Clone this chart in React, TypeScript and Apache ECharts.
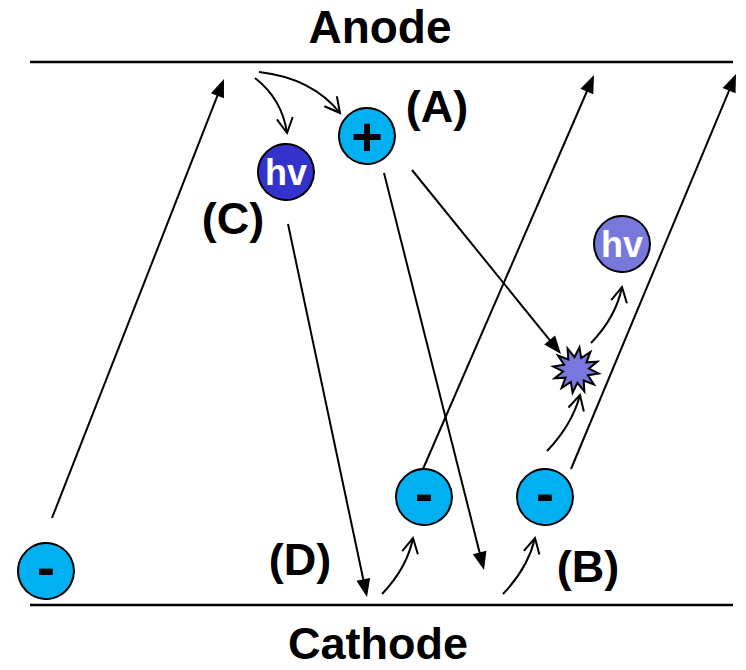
import React, { useEffect, useRef } from "react";
import * as echarts from "echarts";

const W = 746;
const H = 670;

// Electrodes
const electrodeNames = ["Anode", "Cathode"];
const electrodeLineY = [62, 605];
const electrodeLineX = [30, 733];
const electrodeNameX = [380, 378];
const electrodeNameY = [27, 643];
const electrodeNameSize = [46, 45];

// Particles (circles)
const particleLabels = ["-", "-", "-", "+", "hv", "hv"];
const particleKinds = ["ion", "ion", "ion", "ion", "photonDark", "photonLight"];
const particleX = [46, 424, 545, 367, 286, 622];
const particleY = [571, 497, 497, 136, 172, 244];

// Step labels
const stepLabels = ["(A)", "(B)", "(C)", "(D)"];
const stepX = [437, 588, 233, 300];
const stepY = [106, 566, 218, 559];

// Straight trajectories (filled arrowheads)
const straightFromX = [52, 423, 571, 384, 288, 412];
const straightFromY = [518, 469, 469, 173, 224, 170];
const straightToX = [224, 594, 736, 484, 367, 561];
const straightToY = [79, 75, 74, 570, 597, 354];

// Curved emissions (open arrowheads)
const curveFromX = [255, 259, 591, 547, 382, 503];
const curveFromY = [78, 72, 343, 451, 594, 594];
const curveCtrlX = [282, 312, 616, 572, 407, 528];
const curveCtrlY = [99, 78, 317, 425, 568, 568];
const curveToX = [287, 340, 622, 580, 413, 535];
const curveToY = [133, 113, 287, 395, 538, 538];

// Recombination flash
const flashX = [576];
const flashY = [370];

const FONT = '"Liberation Sans", Arial, Helvetica, sans-serif';
const kindFill: Record<string, string> = {
  ion: "#00B0F0",
  photonDark: "#3333CC",
  photonLight: "#7878DC",
};
const kindText: Record<string, string> = {
  ion: "#000000",
  photonDark: "#FFFFFF",
  photonLight: "#FFFFFF",
};

function textEl(text: string, x: number, y: number, size: number, fill: string) {
  return {
    type: "text",
    style: {
      text,
      x,
      y,
      fill,
      font: `bold ${size}px ${FONT}`,
      align: "center",
      verticalAlign: "middle",
      textAlign: "center",
      textVerticalAlign: "middle",
    },
  };
}

export default function App() {
  const ref = useRef<HTMLDivElement>(null);

  useEffect(() => {
    if (!ref.current) return;
    const chart = echarts.init(ref.current, undefined, { renderer: "svg" });

    const common = {
      type: "custom",
      coordinateSystem: "cartesian2d",
      silent: true,
      clip: false,
    };

    const option = {
      animation: false,
      backgroundColor: "#ffffff",
      grid: { left: 0, right: 0, top: 0, bottom: 0 },
      xAxis: { type: "value", min: 0, max: W, show: false },
      yAxis: { type: "value", min: 0, max: H, inverse: true, show: false },
      series: [
        {
          ...common,
          name: "electrodes",
          data: electrodeLineY.map((y, i) => [electrodeLineX[0], y, electrodeLineX[1], electrodeNameX[i], electrodeNameY[i]]),
          encode: { x: [0, 2], y: 1 },
          renderItem: (params: any, api: any) => {
            const a = api.coord([api.value(0), api.value(1)]);
            const b = api.coord([api.value(2), api.value(1)]);
            const t = api.coord([api.value(3), api.value(4)]);
            return {
              type: "group",
              children: [
                { type: "line", shape: { x1: a[0], y1: a[1], x2: b[0], y2: b[1] }, style: { stroke: "#000", lineWidth: 2.5 } },
                textEl(electrodeNames[params.dataIndex], t[0], t[1], electrodeNameSize[params.dataIndex], "#000"),
              ],
            };
          },
        },
        {
          ...common,
          name: "straight",
          data: straightFromX.map((x, i) => [x, straightFromY[i], straightToX[i], straightToY[i]]),
          encode: { x: [0, 2], y: [1, 3] },
          renderItem: (params: any, api: any) => {
            const p1 = api.coord([api.value(0), api.value(1)]);
            const p2 = api.coord([api.value(2), api.value(3)]);
            const dx = p2[0] - p1[0];
            const dy = p2[1] - p1[1];
            const L = Math.hypot(dx, dy);
            const ux = dx / L;
            const uy = dy / L;
            const hl = 18;
            const hw = 7;
            const bx = p2[0] - ux * hl;
            const by = p2[1] - uy * hl;
            return {
              type: "group",
              children: [
                { type: "line", shape: { x1: p1[0], y1: p1[1], x2: bx + ux * 3, y2: by + uy * 3 }, style: { stroke: "#000", lineWidth: 2 } },
                {
                  type: "polygon",
                  shape: { points: [[p2[0], p2[1]], [bx - uy * hw, by + ux * hw], [bx + uy * hw, by - ux * hw]] },
                  style: { fill: "#000" },
                },
              ],
            };
          },
        },
        {
          ...common,
          name: "curves",
          data: curveFromX.map((x, i) => [x, curveFromY[i], curveCtrlX[i], curveCtrlY[i], curveToX[i], curveToY[i]]),
          encode: { x: [0, 2, 4], y: [1, 3, 5] },
          renderItem: (params: any, api: any) => {
            const p1 = api.coord([api.value(0), api.value(1)]);
            const c = api.coord([api.value(2), api.value(3)]);
            const p2 = api.coord([api.value(4), api.value(5)]);
            const dx = p2[0] - c[0];
            const dy = p2[1] - c[1];
            const L = Math.hypot(dx, dy);
            const bx = -dx / L;
            const by = -dy / L;
            const wl = 17;
            const ang = (28 * Math.PI) / 180;
            const cs = Math.cos(ang);
            const sn = Math.sin(ang);
            const w1 = [p2[0] + wl * (bx * cs - by * sn), p2[1] + wl * (bx * sn + by * cs)];
            const w2 = [p2[0] + wl * (bx * cs + by * sn), p2[1] + wl * (-bx * sn + by * cs)];
            return {
              type: "group",
              children: [
                {
                  type: "bezierCurve",
                  shape: { x1: p1[0], y1: p1[1], cpx1: c[0], cpy1: c[1], x2: p2[0], y2: p2[1] },
                  style: { stroke: "#000", lineWidth: 2, fill: "none" },
                },
                {
                  type: "polyline",
                  shape: { points: [w1, [p2[0], p2[1]], w2] },
                  style: { stroke: "#000", lineWidth: 2, fill: "none" },
                },
              ],
            };
          },
        },
        {
          ...common,
          name: "flash",
          data: flashX.map((x, i) => [x, flashY[i]]),
          encode: { x: 0, y: 1 },
          renderItem: (params: any, api: any) => {
            const p = api.coord([api.value(0), api.value(1)]);
            const pts: number[][] = [];
            const n = 12;
            for (let k = 0; k < n * 2; k++) {
              const r = k % 2 === 0 ? 23 : 13;
              const a = (Math.PI * k) / n - Math.PI / 2 + 0.15;
              pts.push([p[0] + r * Math.cos(a), p[1] + r * Math.sin(a)]);
            }
            return {
              type: "polygon",
              shape: { points: pts },
              style: { fill: kindFill.photonLight, stroke: "#000", lineWidth: 2, lineJoin: "miter" },
            };
          },
        },
        {
          ...common,
          name: "particles",
          data: particleX.map((x, i) => [x, particleY[i]]),
          encode: { x: 0, y: 1 },
          renderItem: (params: any, api: any) => {
            const i = params.dataIndex;
            const p = api.coord([api.value(0), api.value(1)]);
            const kind = particleKinds[i];
            const label = particleLabels[i];
            const isSign = kind === "ion";
            const size = isSign ? 54 : 36;
            const dy = label === "-" ? -4 : 0;
            return {
              type: "group",
              children: [
                { type: "circle", shape: { cx: p[0], cy: p[1], r: 28 }, style: { fill: kindFill[kind], stroke: "#000", lineWidth: 2 } },
                textEl(label, p[0], p[1] + dy, size, kindText[kind]),
              ],
            };
          },
        },
        {
          ...common,
          name: "steps",
          data: stepX.map((x, i) => [x, stepY[i]]),
          encode: { x: 0, y: 1 },
          renderItem: (params: any, api: any) => {
            const p = api.coord([api.value(0), api.value(1)]);
            return textEl(stepLabels[params.dataIndex], p[0], p[1], 45, "#000");
          },
        },
      ],
    };

    chart.setOption(option as any);
    return () => chart.dispose();
  }, []);

  return (
    <div
      ref={ref}
      style={{ position: "absolute", left: 0, top: 0, width: W, height: H, background: "#fff" }}
    />
  );
}
